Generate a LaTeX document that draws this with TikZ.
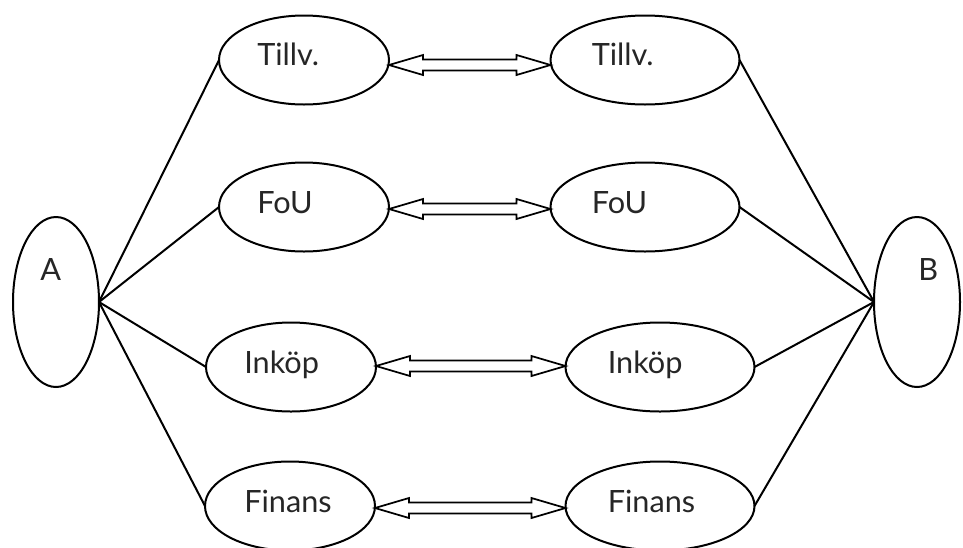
\documentclass[tikz,border=0pt]{standalone}
\usepackage{fontspec}
\setmainfont{Lato}
\usetikzlibrary{shapes.geometric,calc}
\tikzset{
  oval/.style={ellipse, draw, line width=1.5pt, inner sep=0pt, outer sep=0pt},
  leftoval/.style={oval, minimum width=127.5pt, minimum height=66.75pt},
  rightoval/.style={oval, minimum width=141.75pt, minimum height=66.75pt},
  endoval/.style={oval, minimum width=64.5pt, minimum height=127.5pt},
  lbl/.style={anchor=base west, inner sep=0pt, font=\fontsize{23}{27}\selectfont, text=black!85},
  link/.style={line width=1.5pt},
  hollow/.style={line width=1.3pt, line join=miter, fill=white}
}
\newcommand\hollowarrow[3]{%
  \draw[hollow] ($(#1.east)+(0,#3)$) coordinate (p)
    -- ++(34,-10) -- ++(0,4.5)
    -- ($(#2.west)+(-34,#3-5.5)$) -- ++(0,-4.5)
    -- ($(#2.west)+(0,#3)$)
    -- ++(-34,10) -- ++(0,-4.5)
    -- ($(p)+(34,5.5)$) -- ++(0,4.5) -- cycle;}
\begin{document}
\begin{tikzpicture}[x=0.75pt, y=-0.75pt]
\clip (0,0) rectangle (963,547);
\fill[white] (0,0) rectangle (963,547);
% end ovals
\node[endoval] (A) at (56,302) {};
\node[endoval] (B) at (917,302) {};
% left column
\node[leftoval] (t1) at (304,60) {};
\node[leftoval] (f1) at (304,207) {};
\node[leftoval] (i1) at (291,367) {};
\node[leftoval] (n1) at (290,506) {};
% right column
\node[rightoval] (t2) at (645,60) {};
\node[rightoval] (f2) at (645,207) {};
\node[rightoval] (i2) at (660,367) {};
\node[rightoval] (n2) at (660,506) {};
% labels
\node[lbl] (lA) at ($(A.west)+(27,-22)$) {A};
\node[lbl] (lB) at ($(B.west)+(44,-22)$) {B};
\node[lbl] (lt1) at ($(t1.west)+(38,5)$) {Tillv.};
\node[lbl] (lf1) at ($(f1.west)+(38,6)$) {FoU};
\node[lbl] (li1) at ($(i1.west)+(38,6)$) {Inköp};
\node[lbl] (ln1) at ($(n1.west)+(39,6)$) {Finans};
\node[lbl] (lt2) at ($(t2.west)+(41,5)$) {Tillv.};
\node[lbl] (lf2) at ($(f2.west)+(41,6)$) {FoU};
\node[lbl] (li2) at ($(i2.west)+(42,6)$) {Inköp};
\node[lbl] (ln2) at ($(n2.west)+(42,6)$) {Finans};
% fan lines
\foreach \n in {t1,f1,i1,n1} \draw[link] (A.east) -- (\n.west);
\foreach \n in {t2,f2,i2,n2} \draw[link] (B.west) -- (\n.east);
% double arrows
\hollowarrow{t1}{t2}{5}
\hollowarrow{f1}{f2}{2}
\hollowarrow{i1}{i2}{-1}
\hollowarrow{n1}{n2}{2}
\end{tikzpicture}
\end{document}
